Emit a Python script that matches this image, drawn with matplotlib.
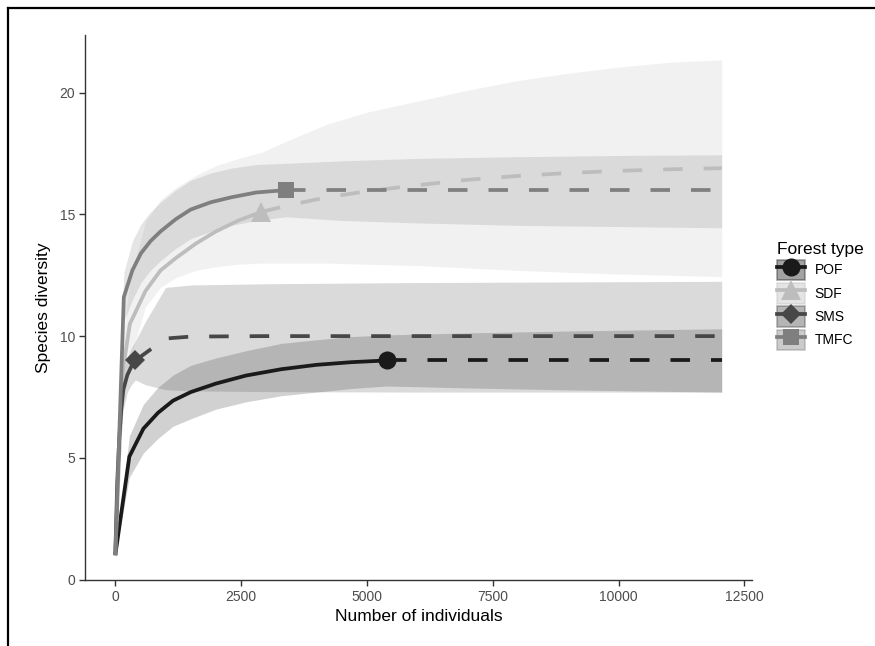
import matplotlib
matplotlib.use("Agg")
import matplotlib.pyplot as plt
from matplotlib.lines import Line2D
from matplotlib.patches import Patch
from matplotlib.legend_handler import HandlerTuple
import numpy as np

plt.rcParams['font.family'] = ['Liberation Sans', 'DejaVu Sans']

# ---------------- data ----------------
groups = ["POF", "SDF", "SMS", "TMFC"]
colors = {"POF": "#1a1a1a", "SDF": "#bdbdbd", "SMS": "#474747", "TMFC": "#7f7f7f"}
markers = {"POF": "o", "SDF": "^", "SMS": "D", "TMFC": "s"}
msizes = {"POF": 13, "SDF": 14, "SMS": 10, "TMFC": 12}

# POF
pof_rx = [1, 280, 560, 850, 1150, 1500, 2000, 2600, 3300, 4000, 4700, 5400]
pof_ry = [1, 5.05, 6.2, 6.85, 7.35, 7.7, 8.05, 8.38, 8.64, 8.82, 8.93, 9.0]
pof_rlo = [1, 4.2, 5.2, 5.8, 6.3, 6.6, 7.0, 7.3, 7.55, 7.7, 7.85, 7.95]
pof_rhi = [1, 5.9, 7.2, 7.9, 8.4, 8.8, 9.1, 9.4, 9.7, 9.85, 9.98, 10.05]
pof_ex = [5400, 6000, 7000, 8000, 9000, 10000, 11000, 12050]
pof_ey = [9.0, 9.0, 9.0, 9.0, 9.0, 9.0, 9.0, 9.0]
pof_elo = [7.95, 7.92, 7.87, 7.83, 7.79, 7.76, 7.73, 7.7]
pof_ehi = [10.05, 10.08, 10.13, 10.17, 10.21, 10.24, 10.27, 10.3]

# SDF
sdf_rx = [1, 145, 290, 600, 900, 1200, 1600, 2000, 2450, 2900]
sdf_ry = [1, 8.5, 10.5, 11.85, 12.7, 13.2, 13.8, 14.3, 14.75, 15.1]
sdf_rlo = [1, 7.0, 9.0, 11.2, 12.0, 12.4, 12.7, 12.85, 12.95, 13.0]
sdf_rhi = [1, 9.8, 12.2, 14.7, 15.6, 16.1, 16.6, 17.0, 17.3, 17.55]
sdf_ex = [2900, 3500, 4200, 5000, 6000, 7000, 8000, 9000, 10000, 11000, 12050]
sdf_ey = [15.1, 15.4, 15.7, 15.95, 16.2, 16.42, 16.58, 16.7, 16.79, 16.85, 16.9]
sdf_elo = [13.0, 13.0, 13.0, 12.95, 12.9, 12.8, 12.7, 12.62, 12.55, 12.5, 12.44]
sdf_ehi = [17.55, 18.1, 18.7, 19.2, 19.65, 20.1, 20.5, 20.8, 21.05, 21.25, 21.35]

# SMS
sms_rx = [1, 40, 80, 120, 160, 240, 320, 400]
sms_ry = [1, 4.0, 5.8, 7.0, 7.8, 8.4, 8.75, 9.0]
sms_rlo = [1, 3.3, 5.0, 6.2, 7.0, 7.7, 8.0, 8.2]
sms_rhi = [1, 4.7, 6.6, 7.8, 8.6, 9.1, 9.5, 9.8]
sms_ex = [400, 600, 800, 1000, 1500, 3000, 6000, 12050]
sms_ey = [9.0, 9.3, 9.6, 9.9, 9.98, 10.0, 10.0, 10.0]
sms_elo = [8.2, 8.0, 7.9, 7.8, 7.75, 7.72, 7.7, 7.7]
sms_ehi = [9.8, 10.6, 11.3, 12.0, 12.1, 12.15, 12.2, 12.25]

# TMFC
tmfc_rx = [1, 170, 340, 510, 700, 900, 1200, 1500, 1900, 2300, 2800, 3400]
tmfc_ry = [1, 11.6, 12.7, 13.4, 13.9, 14.3, 14.8, 15.2, 15.5, 15.7, 15.9, 16.0]
tmfc_rlo = [1, 10.6, 11.5, 12.2, 12.7, 13.1, 13.6, 14.0, 14.3, 14.55, 14.75, 14.9]
tmfc_rhi = [1, 12.6, 13.9, 14.6, 15.1, 15.5, 16.0, 16.4, 16.7, 16.9, 17.05, 17.1]
tmfc_ex = [3400, 4500, 6000, 8000, 10000, 12050]
tmfc_ey = [16.0, 16.0, 16.0, 16.0, 16.0, 16.0]
tmfc_elo = [14.9, 14.75, 14.65, 14.55, 14.5, 14.45]
tmfc_ehi = [17.1, 17.2, 17.3, 17.37, 17.42, 17.45]

series = {
    "POF": (pof_rx, pof_ry, pof_rlo, pof_rhi, pof_ex, pof_ey, pof_elo, pof_ehi),
    "SDF": (sdf_rx, sdf_ry, sdf_rlo, sdf_rhi, sdf_ex, sdf_ey, sdf_elo, sdf_ehi),
    "SMS": (sms_rx, sms_ry, sms_rlo, sms_rhi, sms_ex, sms_ey, sms_elo, sms_ehi),
    "TMFC": (tmfc_rx, tmfc_ry, tmfc_rlo, tmfc_rhi, tmfc_ex, tmfc_ey, tmfc_elo, tmfc_ehi),
}

xticks = [0, 2500, 5000, 7500, 10000, 12500]
yticks = [0, 5, 10, 15, 20]

# ---------------- figure ----------------
W, H = 875, 646
fig = plt.figure(figsize=(W / 100, H / 100), dpi=100)
ax = fig.add_axes([85 / W, (H - 580) / H, (752 - 85) / W, (580 - 35) / H])

lw = 2.7
dash = (0, (5.2, 5.6))

# ribbons
for g in groups:
    rx, ry, rlo, rhi, ex, ey, elo, ehi = series[g]
    xs = list(rx) + list(ex[1:])
    lo = list(rlo) + list(elo[1:])
    hi = list(rhi) + list(ehi[1:])
    ax.fill_between(xs, lo, hi, color=colors[g], alpha=0.2, linewidth=0, zorder=1)

# lines
for g in groups:
    rx, ry, rlo, rhi, ex, ey, elo, ehi = series[g]
    ax.plot(ex, ey, color=colors[g], lw=lw, linestyle=dash, dash_capstyle='butt', zorder=3)
    ax.plot(rx, ry, color=colors[g], lw=lw, solid_capstyle='butt', solid_joinstyle='round', zorder=3)

# observed points
for g in groups:
    rx, ry = series[g][0], series[g][1]
    ax.plot([rx[-1]], [ry[-1]], marker=markers[g], ms=msizes[g], color=colors[g],
            markeredgewidth=0, linestyle='none', zorder=4)

ax.set_xlim(-601, 12652)
ax.set_ylim(-0.02, 22.37)
ax.set_xticks(xticks)
ax.set_xticklabels([str(t) for t in xticks])
ax.set_yticks(yticks)
ax.set_yticklabels([str(t) for t in yticks])

for s in ["top", "right"]:
    ax.spines[s].set_visible(False)
for s in ["left", "bottom"]:
    ax.spines[s].set_color("#333333")
    ax.spines[s].set_linewidth(1.0)
ax.tick_params(axis='both', colors="#333333", length=4, width=1.0, labelsize=10,
               labelcolor="#4d4d4d", pad=3)

ax.set_xlabel("Number of individuals", fontsize=12.5, color="black", labelpad=4)
ax.set_ylabel("Species diversity", fontsize=12.5, color="black", labelpad=6)

# legend
handles = []
for g in groups:
    patch = Patch(facecolor=colors[g], alpha=0.4, edgecolor=colors[g], linewidth=1.2)
    line = Line2D([], [], color=colors[g], lw=lw, marker=markers[g], ms=msizes[g],
                  markeredgewidth=0)
    handles.append((patch, line))

leg = fig.legend(handles, groups, title="Forest type",
                 handler_map={tuple: HandlerTuple(ndivide=1, pad=0)},
                 loc='upper left', bbox_to_anchor=(777 / W, 1 - 242 / H),
                 frameon=False, fontsize=10, title_fontsize=12.5,
                 handlelength=2.0, handleheight=1.9, labelspacing=0.2,
                 handletextpad=0.7, borderpad=0, borderaxespad=0,
                 alignment='left')

# figure border (left and top)
fig.add_artist(Line2D([8 / W, 8 / W], [0, 1 - 8 / H], transform=fig.transFigure,
                      color='black', lw=1.6))
fig.add_artist(Line2D([8 / W, 1], [1 - 8 / H, 1 - 8 / H], transform=fig.transFigure,
                      color='black', lw=1.6))

fig.savefig("out.png", dpi=100, facecolor='white')
